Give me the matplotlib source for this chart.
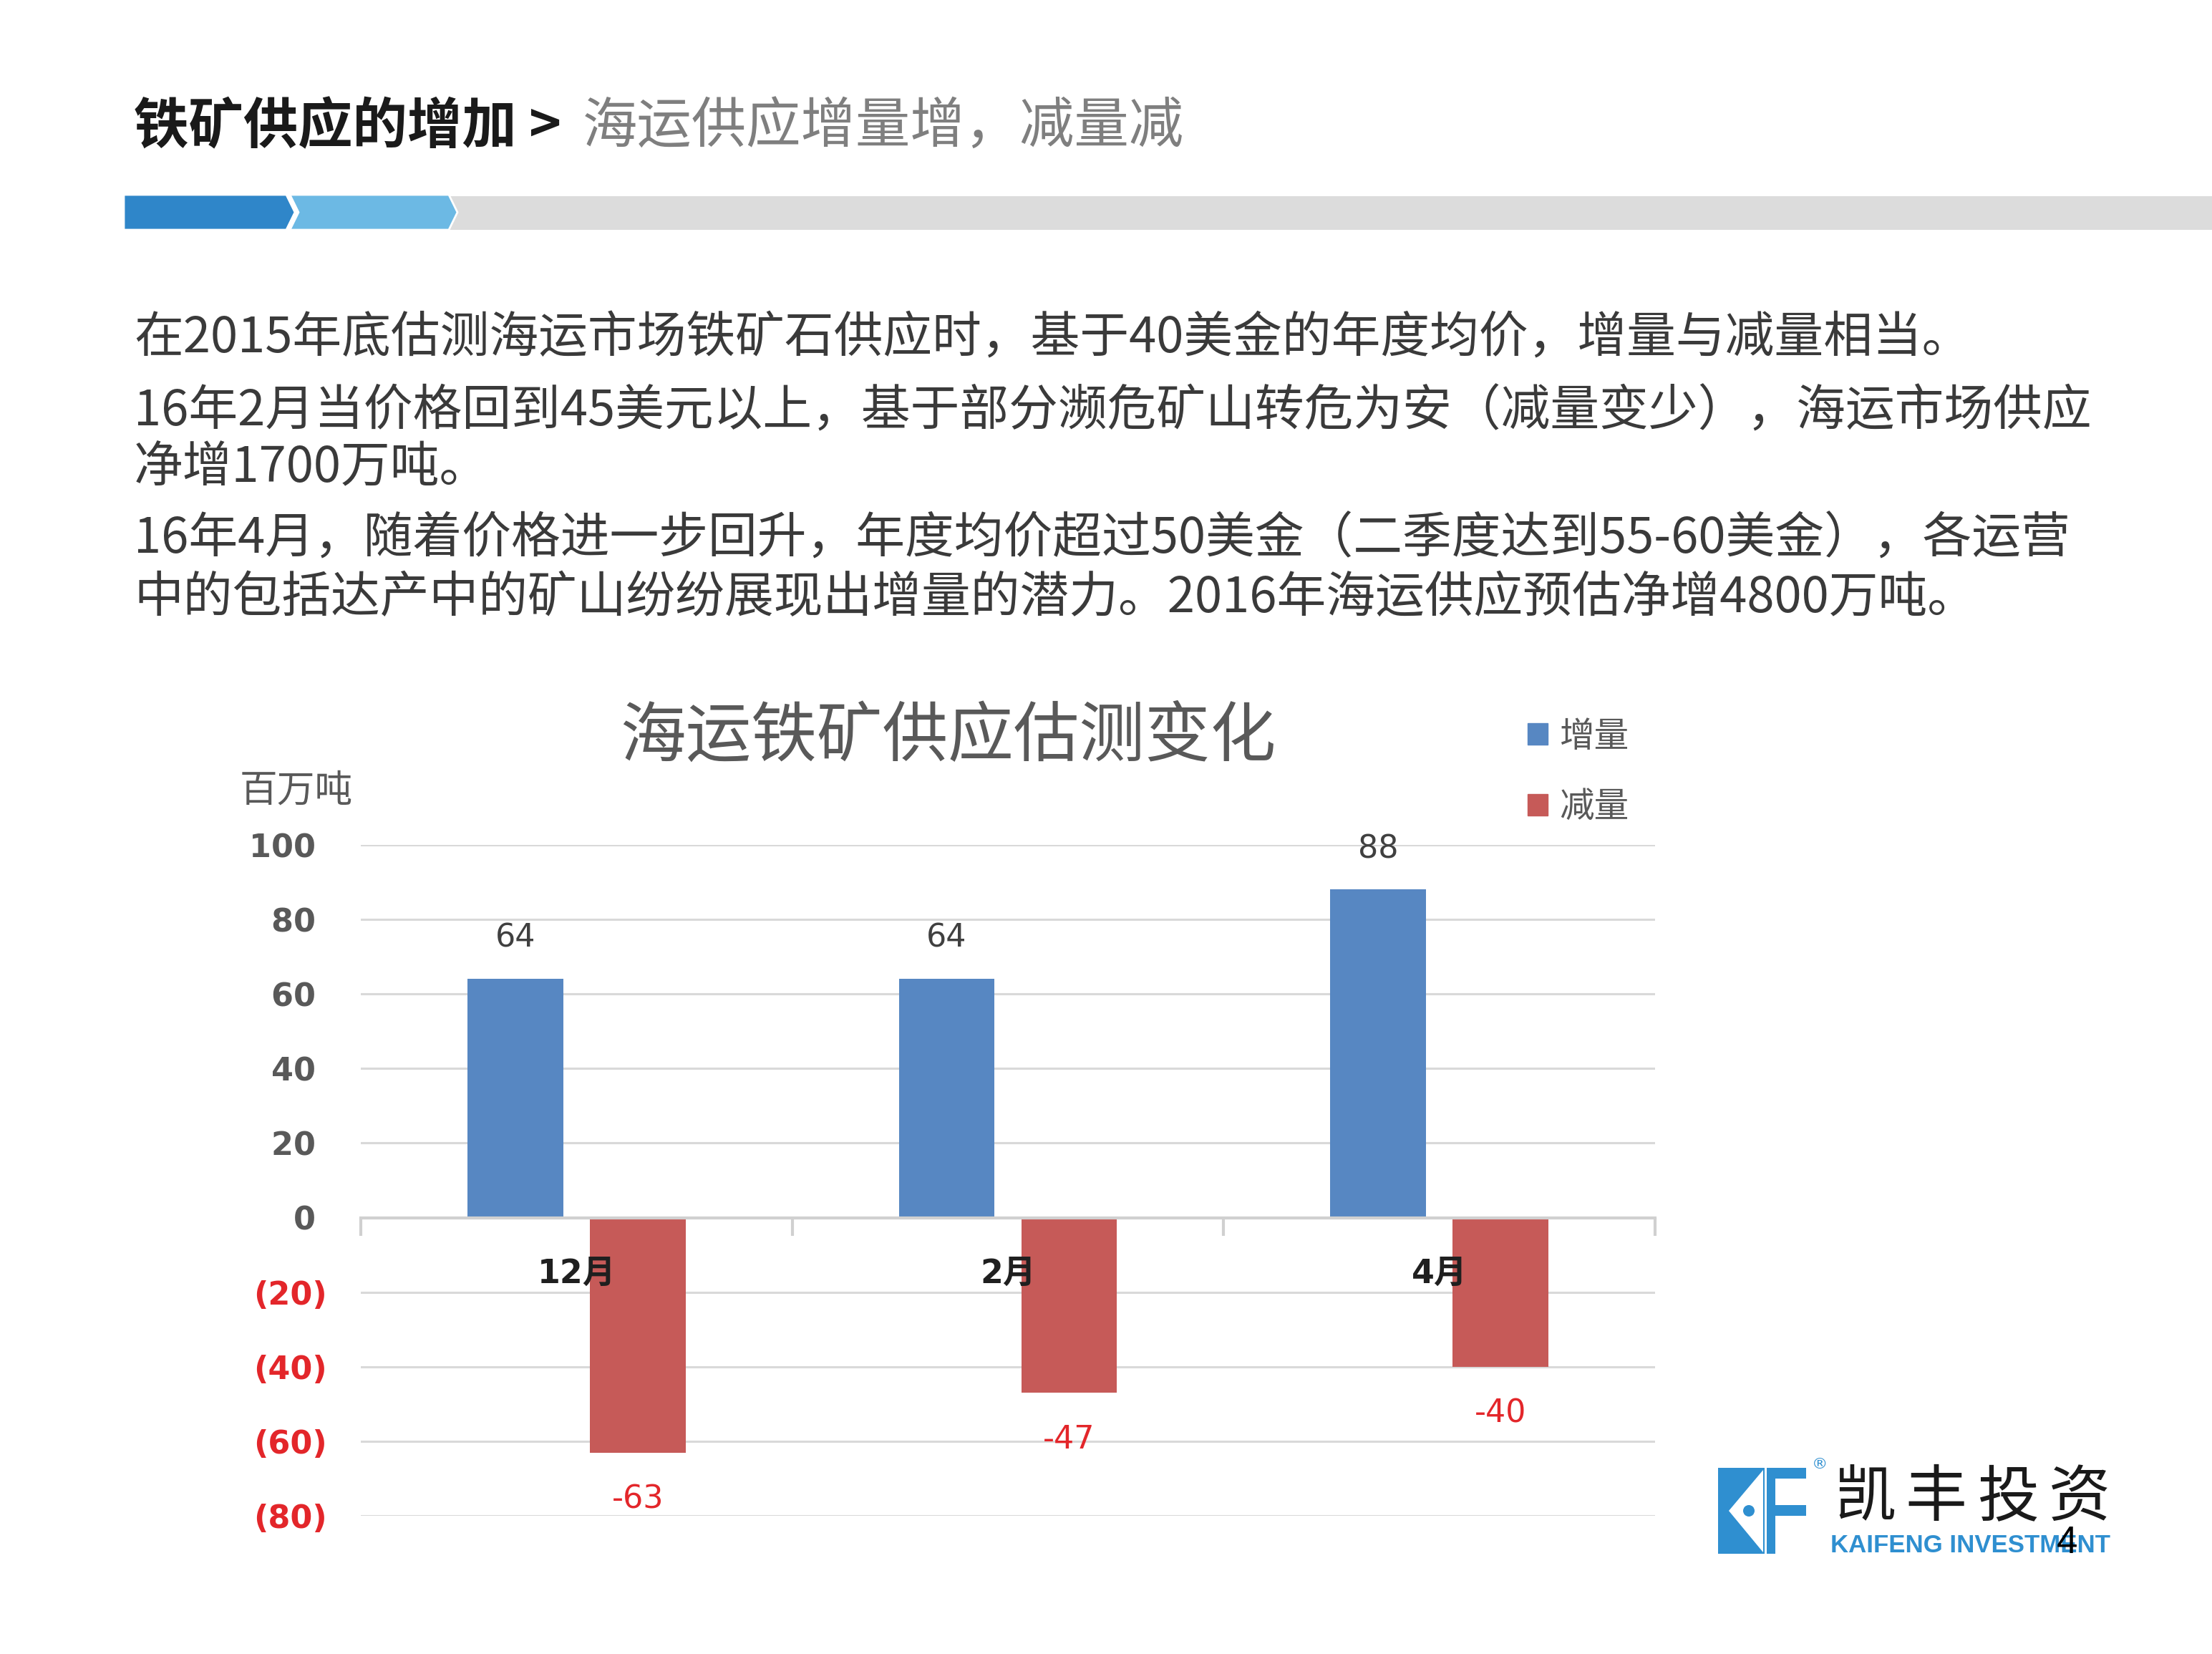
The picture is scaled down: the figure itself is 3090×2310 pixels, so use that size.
import matplotlib
matplotlib.use("Agg")
import matplotlib.pyplot as plt
from matplotlib.patches import Polygon, Rectangle, Circle, Patch

plt.rcParams['font.family'] = ['Noto Sans CJK SC', 'DejaVu Sans']

# data
categories = ['12月', '2月', '4月']
increase = [64, 64, 88]
decrease = [-63, -47, -40]
yticks = [-80, -60, -40, -20, 0, 20, 40, 60, 80, 100]

header_main = '铁矿供应的增加 >'
header_sub = '海运供应增量增，减量减'
body_lines = [
    '在2015年底估测海运市场铁矿石供应时，基于40美金的年度均价，增量与减量相当。',
    '16年2月当价格回到45美元以上，基于部分濒危矿山转危为安（减量变少），海运市场供应',
    '净增1700万吨。',
    '16年4月，随着价格进一步回升，年度均价超过50美金（二季度达到55-60美金），各运营',
    '中的包括达产中的矿山纷纷展现出增量的潜力。2016年海运供应预估净增4800万吨。',
]
body_y = [473, 575, 654, 753, 836]

BLUE = '#5787c2'
RED = '#c65a58'
NEG = '#e3262a'
GRAY = '#595959'

W, H = 3090, 2310
fig = plt.figure(figsize=(W / 100, H / 100), dpi=100)

# decoration layer in pixel coordinates
deco = fig.add_axes([0, 0, 1, 1])
deco.set_xlim(0, W)
deco.set_ylim(H, 0)
deco.axis('off')

# header
deco.text(187, 177, header_main, fontsize=55, fontweight='bold', color='#1a1a1a', va='center', ha='left')
deco.text(814, 177, header_sub, fontsize=55, color='#7f7f7f', va='center', ha='left')

deco.add_patch(Rectangle((625, 274), W - 625, 47, color='#dcdcdc', lw=0))
deco.add_patch(Polygon([(405, 272), (627, 272), (639, 296.5), (627, 321), (405, 321), (417, 296.5)],
                       closed=True, facecolor='#6cb9e4', edgecolor='white', lw=2))
deco.add_patch(Polygon([(173, 272), (400, 272), (412, 296.5), (400, 321), (173, 321)],
                       closed=True, facecolor='#2f86c9', edgecolor='white', lw=2))

for line, y in zip(body_lines, body_y):
    deco.text(187, y, line, fontsize=49.5, color='#3a3a3a', va='center', ha='left')

# logo
deco.add_patch(Rectangle((2400, 2050), 65, 120, color='#2f8fd0', lw=0))
deco.add_patch(Polygon([(2415, 2110), (2463, 2053), (2463, 2168)], closed=True, color='white', lw=0))
deco.add_patch(Circle((2443, 2110), 8, color='#2f8fd0', lw=0))
deco.add_patch(Rectangle((2468, 2050), 12, 120, color='#2f8fd0', lw=0))
deco.add_patch(Rectangle((2468, 2050), 55, 15, color='#2f8fd0', lw=0))
deco.add_patch(Rectangle((2480, 2102), 43, 15, color='#2f8fd0', lw=0))
deco.text(2542, 2045, '®', fontsize=16, color='#2f8fd0', ha='center', va='center', family='DejaVu Sans')
for k, ch in enumerate('凯丰投资'):
    deco.text(2605 + k * 100, 2093, ch, fontsize=62, color='#1a1a1a', ha='center', va='center')
deco.text(2557, 2158, 'KAIFENG INVESTMENT', fontsize=25, fontweight='bold', color='#2f8fd0',
          ha='left', va='center', family='Liberation Sans')
deco.text(2887, 2155, '4', fontsize=38, color='black', ha='center', va='center', family='Liberation Sans')

# chart
ax = fig.add_axes([504 / W, 1 - 2117 / H, (2312 - 504) / W, (2117 - 1180) / H])
x = range(len(categories))
bw = 0.222
off = 0.142
b1 = ax.bar([i - off for i in x], increase, bw, color=BLUE, zorder=2)
b2 = ax.bar([i + off for i in x], decrease, bw, color=RED, zorder=2)

ax.set_xlim(-0.5, len(categories) - 0.5)
ax.set_ylim(-80, 100)
ax.set_axisbelow(True)
ax.yaxis.grid(True, color='#d9d9d9', lw=2.2)
ax.set_yticks(yticks)
ax.set_yticklabels([f'{v} ' if v >= 0 else f'({-v})' for v in yticks])
ax.tick_params(axis='y', length=0, pad=34, labelsize=32)
for lab, v in zip(ax.get_yticklabels(), yticks):
    lab.set_color(GRAY if v >= 0 else NEG)
    lab.set_fontweight('bold')
    lab.set_family('DejaVu Sans')

ax.set_xticks(list(x))
ax.set_xticklabels([])
ax.set_xticks([i - 0.5 for i in range(len(categories) + 1)], minor=True)
ax.tick_params(axis='x', which='major', length=0)
ax.tick_params(axis='x', which='minor', length=18, width=3, color='#d0d0d0', direction='out')

for s in ['top', 'right', 'left']:
    ax.spines[s].set_visible(False)
ax.spines['bottom'].set_position(('data', 0))
ax.spines['bottom'].set_color('#d0d0d0')
ax.spines['bottom'].set_linewidth(3)

for i, cat in enumerate(categories):
    ax.annotate(cat, (i, 0), xytext=(0, -57), textcoords='offset points', ha='center', va='center',
                fontsize=33, fontweight='bold', color='#1f1f1f', zorder=5,
                family=['DejaVu Sans', 'Noto Sans CJK SC'])

for rect, v in zip(b1, increase):
    ax.annotate(str(v), (rect.get_x() + rect.get_width() / 2, v), xytext=(0, 41),
                textcoords='offset points', ha='center', va='center', fontsize=32,
                color='#404040', family='DejaVu Sans', annotation_clip=False)
for rect, v in zip(b2, decrease):
    ax.annotate(str(v), (rect.get_x() + rect.get_width() / 2, v), xytext=(0, -47),
                textcoords='offset points', ha='center', va='center', fontsize=32,
                color=NEG, family='DejaVu Sans', annotation_clip=False)

fig.text(1324 / W, 1 - 1030 / H, '海运铁矿供应估测变化', fontsize=66, color=GRAY, ha='center', va='center')
fig.text(414 / W, 1 - 1104 / H, '百万吨', fontsize=38, color=GRAY, ha='center', va='center')

ax.legend(handles=[Patch(color=BLUE, label='增量'), Patch(color=RED, label='减量')],
          loc='upper left', bbox_to_anchor=(2134 / W, 1 - 1004 / H), bbox_transform=fig.transFigure,
          frameon=False, fontsize=35, handlelength=0.58, handleheight=0.58, handletextpad=0.33,
          labelspacing=1.01, borderpad=0, borderaxespad=0, labelcolor=GRAY)

fig.savefig('out.png', dpi=100, facecolor='white')
